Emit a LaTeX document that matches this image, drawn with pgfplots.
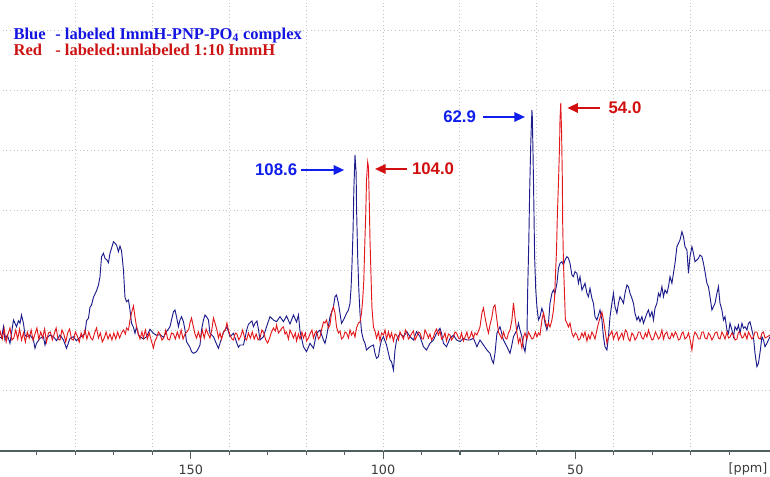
\documentclass[border=0pt]{standalone}
\usepackage{pgfplots}
\pgfplotsset{compat=1.18}
\usepackage{fontspec}
\setmainfont{Liberation Serif}
\newfontfamily\dejavu{DejaVu Sans}
\newfontfamily\arial{Liberation Sans}
\usetikzlibrary{arrows.meta}
\definecolor{specblue}{RGB}{28,28,140}
\definecolor{specred}{RGB}{226,24,28}
\definecolor{txtblue}{RGB}{20,20,225}
\definecolor{txtred}{RGB}{205,20,20}
\definecolor{annblue}{RGB}{15,30,235}
\definecolor{annred}{RGB}{210,15,15}
\definecolor{axisgray}{RGB}{80,95,95}
\definecolor{gridgray}{RGB}{195,195,195}
\definecolor{labgray}{RGB}{60,60,60}

\pgfplotstableread{
ppm I
199.6 -1
199.2 -2.3
198.7 9.3
198.3 -4
197.7 1
197.0 -7.3
196.6 2.7
196.1 16
195.7 12.7
195.3 9.3
194.8 15.3
194.4 12.7
194.0 21
193.5 12.7
193.1 1
192.7 -0.7
191.8 1
190.9 -4
190.5 -12.3
190.1 -7.3
189.2 -2.3
188.3 -0.7
187.9 -9
187.5 -2.3
186.6 1
185.7 -0.7
184.9 -4.7
184.0 1
183.1 -4
182.3 -12.3
181.4 -2.3
180.5 -0.7
179.7 -4.7
178.8 -1.3
177.9 1
177.5 2.7
177.1 15.3
176.6 17.7
176.2 28.7
175.8 31
175.3 38.7
174.5 45.3
174.0 51
173.6 59.3
173.2 79.3
172.7 82.7
172.3 77.7
171.8 76
171.4 73.3
171.0 82.7
170.6 87.7
170.1 94.3
169.7 92.7
169.3 91
168.8 84.3
168.4 90
168.0 85.3
167.5 66
167.1 38.7
166.7 34.3
166.2 36
165.8 26
165.4 12.7
164.9 8.7
164.5 2.7
164.1 9.3
163.6 1
163.2 -0.7
162.3 -3
161.5 -0.7
160.6 6.7
159.7 2.7
158.9 0.7
158.0 1.3
157.1 -1.3
156.3 4.3
155.4 9.3
155.0 16
154.5 24.3
154.1 26
153.7 19.3
153.2 9.3
152.8 16
152.4 19.3
151.9 14.3
151.5 6
151.1 -5.7
150.2 -11.3
149.8 -15.7
149.3 -17.3
148.5 -15.7
148.0 -12.3
147.6 -9
147.2 6
146.7 16
146.3 21
145.9 19.3
145.4 16
145.0 2.7
144.1 -0.7
143.2 -9
142.8 -12.3
142.4 -7.3
141.5 3.7
140.6 9.3
139.8 -0.7
138.9 2.7
138.0 -7.3
137.6 -11.3
137.2 -9
136.3 -9
135.4 6.7
135.0 11.7
134.6 13.3
134.1 15
133.7 9.3
133.3 12.7
132.8 15
132.4 6.7
132.0 -4
131.1 -0.7
130.3 9.3
129.4 19.3
128.5 16
127.7 14.3
126.8 19.3
125.9 14.3
125.1 20
124.2 12
123.3 21
122.5 14
122.0 21
121.6 5
120.7 -10.7
119.9 -15.7
119.0 -7.3
118.1 -12.3
117.3 2.7
116.4 6
115.5 -4
115.1 -7.3
114.7 -0.7
113.8 19.3
112.9 29.3
112.5 39.3
112.1 41
111.6 32.7
111.2 22.7
110.8 12.7
110.3 16
109.9 19.3
109.5 22.7
109.0 26
108.6 32.7
108.3 49.3
108.1 69.3
107.8 106
107.6 146
107.3 181
107.0 162.7
106.9 129.3
106.6 79.3
106.3 46
106.0 22.7
105.6 4.3
105.1 -4
104.7 -7.3
104.3 -14
103.4 -10.7
102.5 -9
102.1 -17.3
101.7 -22.3
101.2 -20.7
100.8 -10.7
100.4 -4
99.9 -0.7
99.1 -9
98.6 -17.3
98.2 -24
97.8 -25.7
97.3 -34
96.9 -14
96.5 -4
95.6 2.7
94.7 -0.7
93.8 4.3
93.0 -0.7
92.1 -4
91.3 4.3
90.4 -0.7
89.5 -10.7
88.7 -14
87.8 -7.3
86.9 -4
86.1 2.7
85.2 7.7
84.8 2.7
84.3 -7.3
83.5 -10.7
82.6 -2.3
81.7 1
80.9 -4
80.0 -5.7
79.1 -2.3
78.2 -4
77.4 -4
76.5 -2.3
75.6 -10.7
74.8 -4
73.9 -9
73.0 -14
72.2 -17.3
71.7 -24
71.3 -27.3
70.9 -17.3
70.4 2.7
69.6 9.3
68.7 -4
67.8 -10.7
67.0 -17.3
66.6 -10.7
66.1 -0.7
65.2 6
64.8 12.7
64.4 6
63.9 -0.7
63.5 -10.7
63.1 -15.7
62.6 -0.7
62.4 46
62.1 96
61.9 142.7
61.6 192.7
61.3 226
61.2 219.3
61.0 179.3
60.8 132.7
60.6 79.3
60.3 46
60.0 29.3
59.6 16
59.2 19.3
58.7 27.7
58.3 22.7
57.9 12.7
57.4 6
57.0 12.7
56.6 32.7
56.1 42.7
55.7 46
55.3 42.7
54.8 52.7
54.4 67.7
54.0 72.7
53.5 74.3
53.1 71
52.7 76
52.2 79.3
51.8 77.7
51.4 72.7
50.9 61
50.5 59.3
50.1 64.3
49.6 62.7
49.2 52.7
48.8 59.3
48.3 46
47.9 49.3
47.5 52.7
47.0 42.7
46.6 39.3
46.2 47.7
45.7 37.7
45.3 32.7
44.9 19.3
44.4 16
44.0 21
43.6 26
43.1 16
42.7 -0.7
42.3 -10.7
41.8 -14
41.4 -0.7
41.0 19.3
40.5 32.7
40.1 42.7
39.7 29.3
39.2 22.7
38.8 32.7
38.4 39.3
37.9 36
37.5 32.7
37.1 42.7
36.6 51
36.2 49.3
35.8 42.7
35.3 37.7
34.9 32.7
34.5 22.7
34.0 16
33.6 19.3
33.2 14.3
32.7 19.3
32.3 12.7
31.4 22.7
31.0 26
30.6 19.3
30.1 24.3
29.7 16
29.3 27.7
28.8 32.7
28.4 42.7
28.0 39.3
27.5 49.3
27.1 39.3
26.7 46
26.2 42.7
25.8 49.3
25.4 59.3
24.9 52.7
24.5 62.7
24.1 72.7
23.6 89.3
23.2 92.7
22.8 96
22.3 104.3
21.9 99.3
21.5 89.3
21.0 86
20.6 62.7
20.2 79.3
19.7 89.3
19.3 82.7
18.9 74.3
18.4 76
18.0 77.7
17.6 81
17.1 79.3
16.7 72.7
16.3 64.3
15.8 52.7
15.4 49.3
15.0 39.3
14.5 26
14.1 29.3
13.7 32.7
13.2 42.7
12.8 49.3
12.4 32.7
11.9 26
11.5 16
11.1 19.3
10.6 6
10.2 2.7
9.8 12.7
9.3 6
8.9 -0.7
8.5 9.3
8.0 6
7.6 11
7.2 2.7
6.7 12.7
6.3 7.7
5.9 9.3
5.4 6
5.0 12.7
4.6 14.3
4.1 6
3.7 -0.7
3.3 -17.3
2.8 -30.7
2.4 -27.3
1.9 -14
1.5 -0.7
1.1 -4
0.7 -10.7
0.2 -7.3
-0.6 -0.7
}\bluedata

\begin{document}
\begin{tikzpicture}
\path[use as bounding box] (0,-19.5pt) rectangle (577.5pt,338.25pt);
\begin{axis}[
  at={(0,0)}, anchor=south west,
  scale only axis, width=577.5pt, height=338.25pt,
  x dir=reverse, xmin=-0.6, xmax=199.6,
  ymin=-115, ymax=336,
  axis lines*=left,
  axis line style={axisgray, line width=1.1pt},
  y axis line style={draw=none},
  xtick={50,100,150},
  minor xtick={10,20,...,190},
  extra x ticks={20,40,...,180},
  extra x tick labels={},
  extra x tick style={grid=major, major tick length=3pt},
  ytick={-55,5,...,305},
  yticklabels={},
  ymajorgrids,
  ytick style={draw=none},
  grid style={gridgray, line width=0.75pt, dash pattern=on 0.75pt off 2pt},
  tick align=outside,
  xtick style={axisgray, line width=0.8pt},
  major tick length=5.8pt,
  minor tick length=3pt,
  /pgf/number format/assume math mode=true,
  xticklabel style={font=\dejavu\fontsize{9.6}{11}\selectfont, text=labgray, yshift=-1.5pt},
  clip=true,
]
\addplot[specblue, line width=0.7pt] table[x=ppm, y=I] {\bluedata};
\addplot[specred, line width=0.7pt] coordinates {
(199.6,1) (199.5,4) (199,-3) (198.5,7) (198,-6) (197.5,2) (197,8) (196.5,-4) (196,-2) (195.5,6) (195,-3) (194.5,7) (194,-4) (193.5,3) (193,-6) (192.5,4) (192,-2) (191.5,6) (191,-4) (190.5,2) (190,8) (189.5,-3) (189,4) (188.5,-2) (188,7) (187.5,-6) (187,3) (186.5,4) (186,-4) (185.5,2) (185,8) (184.5,-3) (184,-4) (183.5,6) (183,2) (182.5,-6) (182,3) (181.5,7) (181,-3) (180.5,-4) (180,4) (179.5,0) (179,-6) (178.5,3) (178,-2) (177.5,6) (177,-3) (176.5,4) (176,-2) (175.5,-4) (175,3) (174.5,8) (174,-2) (173.5,3) (173,-6) (172.5,-2) (172,4) (171.5,-3) (171,2) (170.5,-4) (170,3) (169.5,-3) (169,4) (168.5,-2) (168,3) (167.5,6) (167,2)
(166.7,8) (166.2,6) (165.8,16) (165.4,23) (164.9,30) (164.5,19) (164.1,9) (163.6,2) (163.2,-3) (162.7,4) (162.3,-2) (161.8,6) (161.3,-3) (160.8,3) (160.3,-4) (159.7,-12) (159.3,-5) (158.9,-2) (158.4,4) (158,2) (157.5,-4) (157,-2) (156.5,6) (156,-3) (155.5,-4) (155,3) (154.5,2) (154,-3) (153.5,4) (153,-2) (152.5,6) (152,-3) (151.5,2) (151,4) (150.5,7)
(150.2,13) (149.8,18) (149.3,9) (148.9,2) (148.5,-2) (148,4) (147.5,-3) (147,6) (146.5,-2) (146,7) (145.5,2) (145,-2) (144.5,7) (144.1,18) (143.7,13) (143.2,6) (142.8,-2) (142.4,3) (142,-3) (141.5,4) (141,6) (140.6,13) (140.2,6) (139.8,1) (139.3,-3) (138.9,-4) (138.4,3) (138,2) (137.5,-4) (137,0) (136.5,6) (136,-2) (135.5,-4) (135,3) (134.5,-2) (134,4) (133.5,-3) (133,2) (132.5,-4) (132,-2) (131.5,6) (131,3) (130.5,-4) (130,-7) (129.5,-2) (129,4) (128.5,8) (128,5) (127.7,11) (127.2,3) (126.8,5) (126.3,8) (125.9,9) (125.5,2) (125.1,4) (124.6,-3) (124.2,6) (123.7,2) (123.3,-2) (122.8,3) (122.5,-5) (122,2) (121.6,-3) (121.1,4) (120.7,-2) (120.2,3) (119.9,-5) (119.4,-2) (119,2) (118.5,6) (118.1,-2) (117.7,3) (117.3,5) (116.8,-3) (116.4,-1) (116,6)
(115.5,14) (115.1,13) (114.7,16) (114.2,8) (113.8,11) (113.4,23) (112.9,29) (112.5,23) (112.1,9) (111.6,3) (111.2,5) (110.8,-3) (110.3,-1) (109.9,4) (109.5,3) (109,-2) (108.6,6) (108.2,1) (107.7,4) (107.3,-1) (106.9,8) (106.4,13) (106,14) (105.6,23) (105.3,36) (105,56) (104.8,86) (104.5,123) (104.3,156) (104,174) (103.8,169) (103.6,136) (103.4,96) (103.1,56) (102.9,29) (102.5,9) (102.1,5) (101.7,-2) (101.2,4) (100.8,-5) (100.4,3) (99.9,1) (99.5,6) (99.1,-3) (98.6,4) (98.2,-2) (97.8,3) (97.3,-5) (96.9,2) (96.5,1) (96,-4) (95.6,4) (95.1,0) (94.7,-3) (94.2,6) (93.8,3) (93.4,-3) (93,-1) (92.5,3) (92.1,5) (91.7,-4) (91.3,-1) (90.8,4) (90.4,3) (89.9,-3) (89.5,-3) (89.1,6) (88.7,3) (88.2,-2) (87.8,2) (87.4,-4) (86.9,-1) (86.5,4) (86.1,7) (85.6,1) (85.2,5) (84.8,-3) (84.3,-1) (83.9,3) (83.5,-5) (83,2) (82.6,1) (82.2,-4) (81.7,-1) (81.3,4) (80.9,3) (80.4,-2) (80,-3) (79.6,3) (79.1,-5) (78.7,-1) (78.2,4) (77.8,-3) (77.4,-1) (77,4) (76.5,-2) (76.1,3) (75.6,1) (75.2,5)
(74.8,9) (74.3,23) (73.9,28) (73.5,19) (73,9) (72.6,3) (72.2,11) (71.7,19) (71.3,29) (70.9,31) (70.4,16) (70,4) (69.6,1) (69.1,-3) (68.7,4) (68.2,-2) (67.8,-3) (67.4,3) (67,6) (66.5,16) (66.1,33) (65.7,19) (65.2,3) (64.8,-7) (64.4,-2) (63.9,-12) (63.5,-1) (63.1,3) (62.6,-3) (62.2,4) (61.8,1) (61.3,-3) (60.9,-2) (60.4,4) (60,-1) (59.6,3) (59.2,1) (58.7,16) (58.3,23) (57.9,16) (57.4,9) (57,13) (56.6,9) (56.1,16) (55.7,26) (55.4,39) (55.2,59) (54.9,86) (54.7,119) (54.4,153) (54.1,193) (54,216) (53.8,233) (53.6,206) (53.4,159) (53.3,113) (53.1,73) (52.8,39) (52.6,16) (52.2,13) (51.8,9) (51.4,13) (50.9,3) (50.5,-1) (50,3) (49.6,1) (49.2,-4) (48.8,-3) (48.3,3) (47.9,-1) (47.5,4) (47,-5) (46.6,1) (46.2,-3) (45.7,4) (45.3,1) (44.9,-3) (44.4,6) (44,13) (43.6,18) (43.1,24) (42.7,16) (42.3,6) (41.8,-7) (41.4,-1) (40.9,2) (40.5,5) (40.1,-3) (39.6,2) (39.2,4) (38.8,-4) (38.4,-1) (37.9,3) (37.5,-3) (37,6) (36.6,4) (36.2,-3) (35.8,-5) (35.3,3) (34.9,1) (34.5,-4) (34,-1) (33.6,4) (33.2,4) (32.7,-2) (32.3,-3) (31.8,3) (31.4,-1) (31,6) (30.6,1) (30.1,-4) (29.7,-3) (29.2,4) (28.8,1) (28.4,-3) (28,-1) (27.5,6) (27.1,-3) (26.7,2) (26.2,4) (25.8,-2) (25.4,-3) (24.9,3) (24.5,-1) (24,4) (23.6,1) (23.2,-4) (22.8,-3) (22.3,3) (22,4) (21.5,-3) (21,-1) (20.6,3) (20.2,-3) (19.7,-14) (19.3,-1) (18.9,4) (18.4,1) (18,-3) (17.6,-3) (17.1,4) (16.7,4) (16.3,-2) (15.8,-3) (15.4,3) (15,1) (14.5,-4) (14.1,-1) (13.7,3) (13.2,4) (12.8,-2) (12.4,-3) (11.9,4) (11.5,1) (11.1,-3) (10.6,4) (10.2,-2) (9.8,-1) (9.3,3) (8.9,1) (8.5,-4) (8,-3) (7.6,4) (7.2,4) (6.7,-2) (6.3,-1) (5.9,3) (5.4,-3) (5,4) (4.6,1) (4.1,-3) (3.7,-1) (3.3,4) (2.8,4) (2.4,-2) (1.9,-3) (1.5,3) (1.1,4) (0.7,-2) (0.2,-1) (-0.6,1)
};

\draw[annblue, line width=1.6pt, -{Triangle[length=8pt,width=7pt]}] (axis cs:121.3,166) -- (axis cs:110.1,166);
\node[annblue, font=\arial\bfseries\fontsize{12.6}{14}\selectfont] at (axis cs:127.8,166) {108.6};
\draw[annred, line width=1.6pt, -{Triangle[length=8pt,width=7pt]}] (axis cs:93.8,167) -- (axis cs:102.1,167);
\node[annred, font=\arial\bfseries\fontsize{12.6}{14}\selectfont] at (axis cs:87.0,167) {104.0};
\draw[annblue, line width=1.6pt, -{Triangle[length=8pt,width=7pt]}] (axis cs:74.0,219) -- (axis cs:63.1,219);
\node[annblue, font=\arial\bfseries\fontsize{12.6}{14}\selectfont] at (axis cs:80.1,219) {62.9};
\draw[annred, line width=1.6pt, -{Triangle[length=8pt,width=7pt]}] (axis cs:43.6,228) -- (axis cs:52.1,228);
\node[annred, font=\arial\bfseries\fontsize{12.6}{14}\selectfont] at (axis cs:37.1,228) {54.0};
\end{axis}

\node[anchor=base west, inner sep=0, txtblue, font=\bfseries\fontsize{12.4}{14}\selectfont] at (10pt,308.6pt) {Blue};
\node[anchor=base west, inner sep=0, txtblue, font=\bfseries\fontsize{12.4}{14}\selectfont] at (41.25pt,308.6pt) {- labeled ImmH-PNP-PO\textsubscript{4} complex};
\node[anchor=base west, inner sep=0, txtred, font=\bfseries\fontsize{12.4}{14}\selectfont] at (10pt,296.6pt) {Red};
\node[anchor=base west, inner sep=0, txtred, font=\bfseries\fontsize{12.4}{14}\selectfont] at (41.25pt,296.6pt) {- labeled:unlabeled 1:10 ImmH};
\node[labgray, font=\dejavu\fontsize{9.6}{11}\selectfont] at (561pt,-13.5pt) {[ppm]};
\end{tikzpicture}
\end{document}
